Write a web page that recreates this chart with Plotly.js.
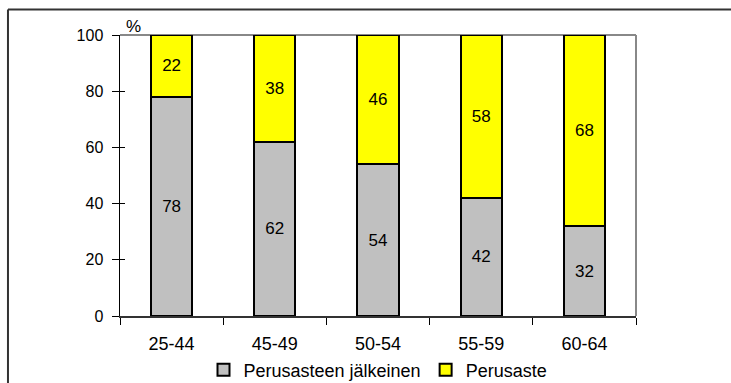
<!DOCTYPE html>
<html>
<head>
<meta charset="utf-8">
<script src="https://cdn.plot.ly/plotly-3.0.1.min.js"></script>
<style>html,body{margin:0;padding:0;background:#fff;}#chart{width:731px;height:383px;}</style>
</head>
<body>
<div id="chart"></div>
<script>
const categories = ["25-44", "45-49", "50-54", "55-59", "60-64"];
const postBasic = [78, 62, 54, 42, 32];
const basic = [22, 38, 46, 58, 68];
const seriesNames = ["Perusasteen jälkeinen", "Perusaste"];
const yTicks = [0, 20, 40, 60, 80, 100];

const fam = "Liberation Sans, Arial, sans-serif";
const yFont = {family: fam, size: 16, color: "#000"};
const barFont = {family: fam, size: 17, color: "#000"};
const xFont = {family: fam, size: 18, color: "#000"};
const legFont = {family: fam, size: 18, color: "#000"};

const traces = [
  {
    type: "bar", name: seriesNames[0], x: categories, y: postBasic,
    text: postBasic.map(String), textposition: "inside", insidetextanchor: "middle",
    textfont: barFont, insidetextfont: barFont,
    marker: {color: "#c0c0c0", line: {color: "#000", width: 2}},
    hoverinfo: "skip"
  },
  {
    type: "bar", name: seriesNames[1], x: categories, y: basic,
    text: basic.map(String), textposition: "inside", insidetextanchor: "middle",
    textfont: barFont, insidetextfont: barFont,
    marker: {color: "#ffff00", line: {color: "#000", width: 2}},
    hoverinfo: "skip"
  },
  {
    type: "scatter", x: [categories[0]], y: [0], yaxis: "y2", mode: "markers",
    marker: {opacity: 0}, showlegend: false, hoverinfo: "skip"
  }
];

const layout = {
  width: 731, height: 383,
  margin: {l: 120, r: 95, t: 35, b: 67, pad: 0, autoexpand: false},
  paper_bgcolor: "#fff", plot_bgcolor: "#fff",
  font: yFont,
  barmode: "stack",
  bargap: 0.6,
  showlegend: true,
  legend: {
    orientation: "h", x: 0.5, xanchor: "center",
    yref: "container", y: 0.034, yanchor: "middle",
    font: legFont, traceorder: "normal", itemwidth: 30, tracegroupgap: 0,
    bgcolor: "rgba(0,0,0,0)"
  },
  xaxis: {
    type: "category", tickson: "boundaries", ticks: "outside", ticklen: 7,
    tickcolor: "#000", tickwidth: 1,
    showline: true, linecolor: "#333", linewidth: 1.5,
    showgrid: false, zeroline: false, tickfont: xFont, ticklabelstandoff: 11,
    automargin: false
  },
  yaxis: {
    range: [0, 100], tickvals: yTicks, ticks: "outside", ticklen: 7,
    tickcolor: "#000", tickwidth: 1,
    showline: true, linecolor: "#000", linewidth: 1.5,
    showgrid: false, zeroline: false, tickfont: yFont, ticklabelstandoff: 5,
    automargin: false
  },
  yaxis2: {
    overlaying: "y", side: "left", range: [0, 100], tickvals: yTicks,
    ticks: "inside", ticklen: 5, tickcolor: "#000", tickwidth: 1,
    showticklabels: false, showline: false, showgrid: false, zeroline: false
  },
  shapes: [
    {type: "line", xref: "paper", yref: "paper", x0: 0, x1: 1, y0: 1, y1: 1,
     line: {color: "#888", width: 2}, layer: "below"},
    {type: "line", xref: "paper", yref: "paper", x0: 1, x1: 1, y0: 0, y1: 1,
     line: {color: "#888", width: 2}, layer: "below"},
    {type: "line", xref: "paper", yref: "paper", x0: -0.2171, x1: 1.3, y0: 1.0906, y1: 1.0906,
     line: {color: "#333", width: 2}},
    {type: "line", xref: "paper", yref: "paper", x0: -0.2171, x1: -0.2171, y0: -0.3, y1: 1.0906,
     line: {color: "#333", width: 2}}
  ],
  annotations: [
    {text: "%", xref: "paper", yref: "paper", x: 0.026, y: 1.03, xanchor: "center", yanchor: "middle",
     showarrow: false, font: {family: fam, size: 17, color: "#000"}}
  ]
};

Plotly.newPlot("chart", traces, layout, {staticPlot: true, displayModeBar: false});
</script>
</body>
</html>
